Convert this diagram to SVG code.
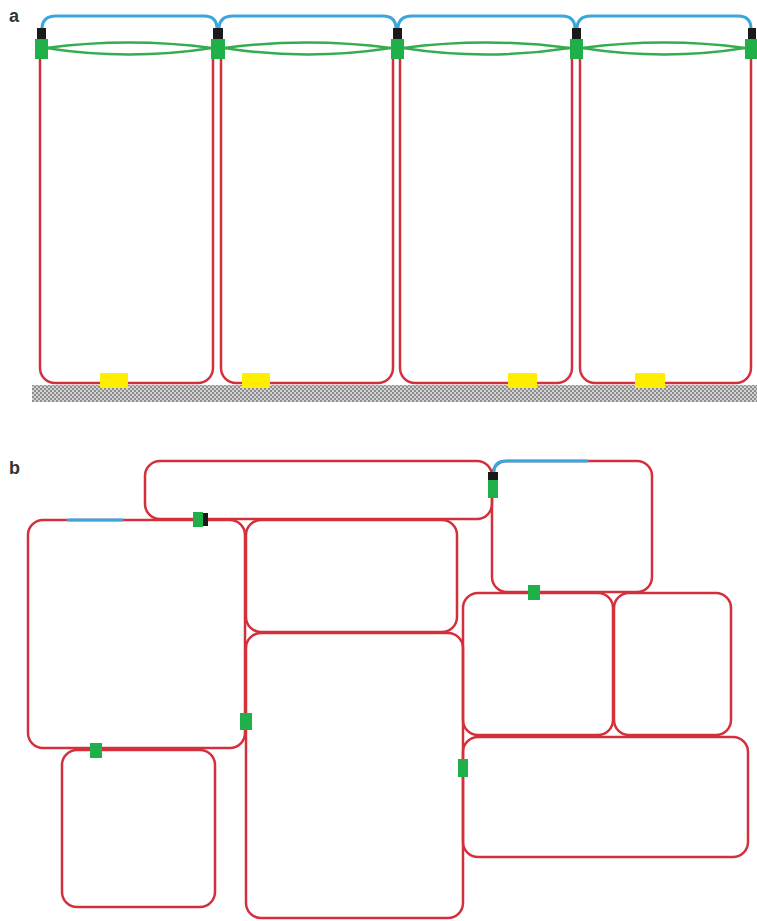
<svg xmlns="http://www.w3.org/2000/svg" width="757" height="921" viewBox="0 0 757 921">
<style>
.cell{fill:none;stroke:#d4303c;stroke-width:2.5;stroke-linejoin:round}
.blue{fill:none;stroke:#3aa6dc;stroke-width:3;stroke-linecap:round}
.grn{fill:none;stroke:#34ad50;stroke-width:2.5}
.gbox{fill:#1fb04a}
.kbox{fill:#1a1a1a}
.yel{fill:#ffee00}
.lbl{font-family:"Liberation Sans",Arial,sans-serif;font-weight:bold;font-size:18px;fill:#333}
</style>
<defs>
<pattern id="hatch" width="4" height="4" patternUnits="userSpaceOnUse">
<rect width="4" height="4" fill="#d2d2d2"/>
<rect width="2" height="2" fill="#8c8c8c"/>
<rect x="2" y="2" width="2" height="2" fill="#8c8c8c"/>
</pattern>
</defs>
<rect width="757" height="921" fill="#ffffff"/>
<text class="lbl" x="9" y="22">a</text>
<text class="lbl" x="9" y="474">b</text>

<!-- Panel a -->
<rect id="substrate" x="32" y="385" width="725" height="17" fill="url(#hatch)"/>
<g id="a-cell1"><path class="cell" d="M40,58 V368 A15,15 0 0 0 55,383 H198 A15,15 0 0 0 213,368 V58"/><rect class="yel" x="100" y="373" width="28" height="15"/></g>
<g id="a-cell2"><path class="cell" d="M221,58 V368 A15,15 0 0 0 236,383 H378 A15,15 0 0 0 393,368 V58"/><rect class="yel" x="242" y="373" width="28" height="15"/></g>
<g id="a-cell3"><path class="cell" d="M400,58 V368 A15,15 0 0 0 415,383 H557 A15,15 0 0 0 572,368 V58"/><rect class="yel" x="508" y="373" width="29" height="15"/></g>
<g id="a-cell4"><path class="cell" d="M580,58 V368 A15,15 0 0 0 595,383 H736 A15,15 0 0 0 751,368 V58"/><rect class="yel" x="635" y="373" width="30" height="15"/></g>

<g id="a-connectors">
<path class="blue" d="M42,29 Q42,16 56,16 H204 Q217,16 217,29"/>
<path class="blue" d="M219,29 Q219,16 233,16 H383 Q396,16 396,29"/>
<path class="blue" d="M398,29 Q398,16 412,16 H562 Q575,16 575,29"/>
<path class="blue" d="M577,29 Q577,16 591,16 H738 Q751,16 751,29"/>
<path class="grn" d="M46,48 Q129,37 212,48"/><path class="grn" d="M46,48 Q129,61 212,48"/>
<path class="grn" d="M224,48 Q307,37 391,48"/><path class="grn" d="M224,48 Q307,61 391,48"/>
<path class="grn" d="M403,48 Q486,37 570,48"/><path class="grn" d="M403,48 Q486,61 570,48"/>
<path class="grn" d="M582,48 Q665,37 745,48"/><path class="grn" d="M582,48 Q665,61 745,48"/>
</g>
<g id="a-junction1"><rect class="kbox" x="37" y="28" width="9" height="11"/><rect class="gbox" x="35" y="39" width="13" height="20"/></g>
<g id="a-junction2"><rect class="kbox" x="213" y="28" width="10" height="11"/><rect class="gbox" x="211" y="39" width="14" height="20"/></g>
<g id="a-junction3"><rect class="kbox" x="393" y="28" width="9" height="11"/><rect class="gbox" x="391" y="39" width="13" height="20"/></g>
<g id="a-junction4"><rect class="kbox" x="572" y="28" width="9" height="11"/><rect class="gbox" x="570" y="39" width="13" height="20"/></g>
<g id="a-junction5"><rect class="kbox" x="748" y="28" width="8" height="11"/><rect class="gbox" x="745" y="39" width="12" height="20"/></g>

<!-- Panel b -->
<g id="b-cell1"><rect class="cell" x="145" y="461" width="347" height="58" rx="15"/></g>
<g id="b-cell5"><rect class="cell" x="492" y="461" width="160" height="131" rx="15"/></g>
<g id="b-cell2"><rect class="cell" x="28" y="520" width="217" height="228" rx="15"/></g>
<g id="b-cell3"><rect class="cell" x="246" y="520" width="211" height="112" rx="15"/></g>
<g id="b-cell4"><rect class="cell" x="246" y="633" width="217" height="285" rx="15"/></g>
<g id="b-cell9"><rect class="cell" x="62" y="750" width="153" height="157" rx="15"/></g>
<g id="b-cell6"><rect class="cell" x="463" y="593" width="150" height="142" rx="15"/></g>
<g id="b-cell7"><rect class="cell" x="614" y="593" width="117" height="142" rx="15"/></g>
<g id="b-cell8"><rect class="cell" x="463" y="737" width="285" height="120" rx="15"/></g>

<g id="b-connectors">
<path class="blue" d="M68,520 H122"/>
<path class="blue" d="M494,472 Q494,461 506,461 H587"/>
</g>
<g id="b-junction1"><rect class="gbox" x="193" y="512" width="10" height="15"/><rect class="kbox" x="203" y="513" width="5" height="13"/></g>
<g id="b-junction2"><rect class="kbox" x="488" y="472" width="10" height="8"/><rect class="gbox" x="488" y="480" width="10" height="18"/></g>
<g id="b-junction3"><rect class="gbox" x="528" y="585" width="12" height="15"/></g>
<g id="b-junction4"><rect class="gbox" x="90" y="743" width="12" height="15"/></g>
<g id="b-junction5"><rect class="gbox" x="240" y="713" width="12" height="17"/></g>
<g id="b-junction6"><rect class="gbox" x="458" y="759" width="10" height="18"/></g>
</svg>
